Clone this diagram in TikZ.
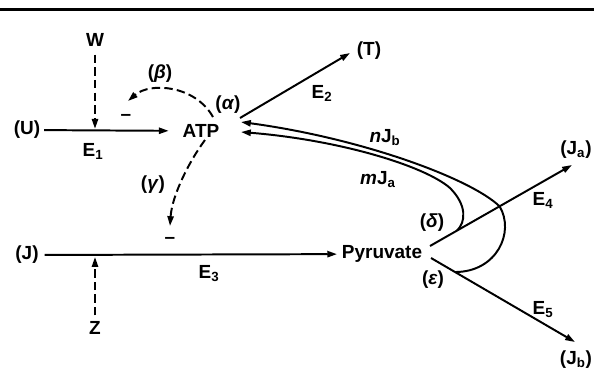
\documentclass[tikz,border=0pt]{standalone}
\usepackage{fontspec}
\setmainfont{Liberation Sans}
\usetikzlibrary{arrows.meta,calc}

\tikzset{
  lbl/.style={inner sep=0pt, outer sep=0pt},
  flow/.style={line width=1.4pt, -{Triangle[length=7pt,width=4.4pt]}},
  ctrl/.style={flow, dash pattern=on 6pt off 3pt},
  route/.style={line width=1.4pt},
}

\begin{document}
\begin{tikzpicture}[x=0.025cm, y=-0.025cm, font=\fontsize{13.5}{16}\selectfont\bfseries]
\useasboundingbox (0,0) rectangle (594,371);
\draw[line width=1.5pt] (0,9.5) -- (594,9.5);

% pools
\node[lbl] (U)   at (27,130)  {(U)};
\node[lbl] (ATP) at (201,131) {ATP};
\node[lbl] (T)   at (369,51)  {(T)};
\node[lbl] (J)   at (27,255)  {(J)};
\node[lbl] (pyr) at (382,254) {Pyruvate};
\node[lbl] (Ja)  at (576,150) {(J\textsubscript{a})};
\node[lbl] (Jb)  at (576,360) {(J\textsubscript{b})};
\node[lbl] (W)   at (95,40)   {W};
\node[lbl] (Z)   at (95,328)  {Z};

% enzymes and signs
\node[lbl] (e1) at (93,151)  {E\textsubscript{1}};
\node[lbl] (e2) at (322,93)  {E\textsubscript{2}};
\node[lbl] (e3) at (209,274) {E\textsubscript{3}};
\node[lbl] (e4) at (543,200) {E\textsubscript{4}};
\node[lbl] (e5) at (543,310) {E\textsubscript{5}};
\node[lbl] (m1) at (126,117) {--};
\node[lbl] (m2) at (170,240) {--};
\node[lbl] (nJb) at (385,138) {\textit{n}J\textsubscript{b}};
\node[lbl] (mJa) at (378,180) {\textit{m}J\textsubscript{a}};

% branch points
\node[lbl] (alpha) at (228,105) {(\textit{α})};
\node[lbl] (beta)  at (160,74)  {(\textit{β})};
\node[lbl] (gamma) at (153,185) {(\textit{γ})};
\node[lbl] (delta) at (432,223) {(\textit{δ})};
\node[lbl] (eps)   at (433,280) {(\textit{ε})};

\coordinate (atpNE) at (240,118);
\coordinate (tTip)  at (350,53);
\coordinate (pyrNE) at (430,246);
\coordinate (pyrSE) at (431,258);
\coordinate (jaTip) at (572,165);
\coordinate (jbTip) at (575,342);
\coordinate (dPt)   at ($(pyrNE)!0.19!(jaTip)$);
\coordinate (kPt)   at ($(pyrNE)!0.49!(jaTip)$);
\coordinate (ePt)   at ($(pyrSE)!0.167!(jbTip)$);
\coordinate (inB)   at (241,122);
\coordinate (inA)   at (241,132);
\coordinate (bSt)   at (213,117);
\coordinate (bEnd)  at (128,101);
\coordinate (gSt)   at (205,140);
\coordinate (gEnd)  at (170,226);

% main fluxes
\draw[flow, shorten <=0.1cm, shorten >=0.35cm] (U) -- (ATP);
\draw[flow, shorten <=0.15cm, shorten >=0.12cm] (J) -- (pyr);
\draw[flow] (atpNE) -- (tTip);
\draw[flow] (pyrNE) -- (jaTip);
\draw[flow] (pyrSE) -- (jbTip);

% effectors
\draw[ctrl, shorten <=0.2cm, shorten >=0.03cm] (W) -- (W |- U);
\draw[ctrl, shorten <=0.15cm, shorten >=0.05cm] (Z) -- (Z |- J);
\draw[ctrl] (bSt) .. controls (195,85) and (150,82) .. (bEnd);
\draw[ctrl] (gSt) .. controls (190,160) and (172,195) .. (gEnd);

% ATP returned from pyruvate branches
\draw[flow] (kPt) .. controls (470,178) and (360,138) .. (inB);
\draw[flow] (dPt) .. controls (466,222) and (467,205) .. (450,188)
  .. controls (425,166) and (340,140) .. (inA);
\draw[route] (kPt) .. controls (515,232) and (497,272) .. (ePt);
\end{tikzpicture}
\end{document}
